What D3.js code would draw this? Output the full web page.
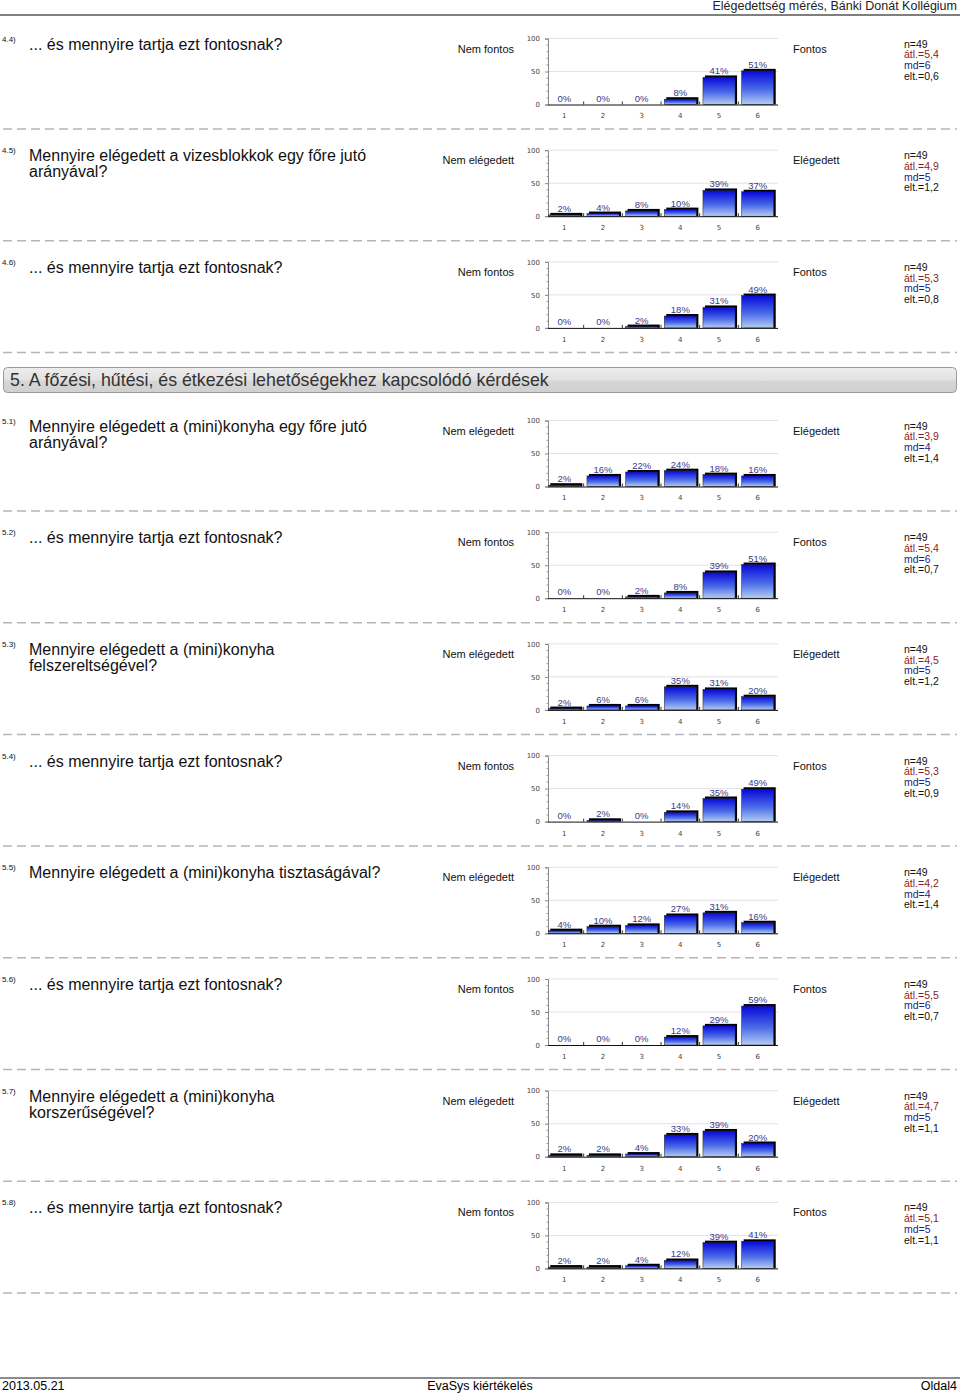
<!DOCTYPE html>
<html><head><meta charset="utf-8">
<script src="https://cdn.jsdelivr.net/npm/d3@7"></script>
<style>body{margin:0;background:#fff}svg{display:block}</style>
</head><body>
<script>
const categories = ["1","2","3","4","5","6"];
const yTicks = [0,50,100];
const ids = ["4.4)","4.5)","4.6)","5.1)","5.2)","5.3)","5.4)","5.5)","5.6)","5.7)","5.8)"];
const questions = [
  ["... és mennyire tartja ezt fontosnak?"],
  ["Mennyire elégedett a vizesblokkok egy főre jutó","arányával?"],
  ["... és mennyire tartja ezt fontosnak?"],
  ["Mennyire elégedett a (mini)konyha egy főre jutó","arányával?"],
  ["... és mennyire tartja ezt fontosnak?"],
  ["Mennyire elégedett a (mini)konyha","felszereltségével?"],
  ["... és mennyire tartja ezt fontosnak?"],
  ["Mennyire elégedett a (mini)konyha tisztaságával?"],
  ["... és mennyire tartja ezt fontosnak?"],
  ["Mennyire elégedett a (mini)konyha","korszerűségével?"],
  ["... és mennyire tartja ezt fontosnak?"]
];
const leftLabels = ["Nem fontos","Nem elégedett","Nem fontos","Nem elégedett","Nem fontos","Nem elégedett","Nem fontos","Nem elégedett","Nem fontos","Nem elégedett","Nem fontos"];
const rightLabels = ["Fontos","Elégedett","Fontos","Elégedett","Fontos","Elégedett","Fontos","Elégedett","Fontos","Elégedett","Fontos"];
const percents = [
  [0,0,0,8,41,51],
  [2,4,8,10,39,37],
  [0,0,2,18,31,49],
  [2,16,22,24,18,16],
  [0,0,2,8,39,51],
  [2,6,6,35,31,20],
  [0,2,0,14,35,49],
  [4,10,12,27,31,16],
  [0,0,0,12,29,59],
  [2,2,4,33,39,20],
  [2,2,4,12,39,41]
];
const nValues = [49,49,49,49,49,49,49,49,49,49,49];
const means = ["5,4","4,9","5,3","3,9","5,4","4,5","5,3","4,2","5,5","4,7","5,1"];
const medians = ["6","5","5","4","6","5","5","4","6","5","5"];
const devs = ["0,6","1,2","0,8","1,4","0,7","1,2","0,9","1,4","0,7","1,1","1,1"];
const headerTitle = "Elégedettség mérés, Bánki Donát Kollégium";
const sectionTitle = "5. A főzési, hűtési, és étkezési lehetőségekhez kapcsolódó kérdések";
const footer = ["2013.05.21","EvaSys kiértékelés","Oldal4"];

const W = 960, H = 1395;
const svg = d3.select("body").append("svg").attr("width", W).attr("height", H)
  .style("font-family","'Liberation Sans', Arial, sans-serif");

const defs = svg.append("defs");
const grad = defs.append("linearGradient").attr("id","barGrad").attr("x1",0).attr("y1",0).attr("x2",0).attr("y2",1);
grad.append("stop").attr("offset","0%").attr("stop-color","#0808d8");
grad.append("stop").attr("offset","55%").attr("stop-color","#4a6ae8");
grad.append("stop").attr("offset","100%").attr("stop-color","#b4ccf2");
const sgrad = defs.append("linearGradient").attr("id","secGrad").attr("x1",0).attr("y1",0).attr("x2",0).attr("y2",1);
sgrad.append("stop").attr("offset","0%").attr("stop-color","#ededed");
sgrad.append("stop").attr("offset","50%").attr("stop-color","#e2e2e2");
sgrad.append("stop").attr("offset","55%").attr("stop-color","#d6d6d6");
sgrad.append("stop").attr("offset","100%").attr("stop-color","#d0d0d0");

// header
svg.append("text").attr("x",957).attr("y",10).attr("text-anchor","end").attr("font-size",12.5).attr("fill","#222").text(headerTitle);
svg.append("line").attr("x1",0).attr("x2",960).attr("y1",15).attr("y2",15).attr("stroke","#555").attr("stroke-width",1.5);

// footer
svg.append("line").attr("x1",0).attr("x2",960).attr("y1",1378).attr("y2",1378).attr("stroke","#666").attr("stroke-width",1.5);
svg.append("text").attr("x",2).attr("y",1390).attr("font-size",12.5).text(footer[0]);
svg.append("text").attr("x",480).attr("y",1390).attr("text-anchor","middle").attr("font-size",12.5).text(footer[1]);
svg.append("text").attr("x",957).attr("y",1390).attr("text-anchor","end").attr("font-size",12.5).text(footer[2]);

// section header
const sec = svg.append("g");
sec.append("rect").attr("x",3.5).attr("y",367.5).attr("width",953).attr("height",25).attr("rx",4)
  .attr("fill","url(#secGrad)").attr("stroke","#9a9a9a");
sec.append("text").attr("x",10).attr("y",386).attr("font-size",17.8).attr("fill","#333").text(sectionTitle);

function blockTop(i){ return i < 3 ? 17.5 + i*111.7 : 399.5 + (i-3)*111.7; }

const x = d3.scaleBand().domain(categories).range([545, 777]).paddingInner(0.17).paddingOuter(0.085);

ids.forEach((id, i) => {
  const D = blockTop(i);
  const g = svg.append("g");
  const y = d3.scaleLinear().domain([0,100]).range([D+87, D+21]);

  g.append("text").attr("x",2).attr("y",D+24).attr("font-size",8).attr("fill","#111").text(id);
  questions[i].forEach((line, k) => {
    g.append("text").attr("x",29).attr("y",D+32 + k*16).attr("font-size",16).attr("fill","#111").text(line);
  });
  g.append("text").attr("x",514).attr("y",D+35).attr("text-anchor","end").attr("font-size",11).attr("fill","#111").text(leftLabels[i]);
  g.append("text").attr("x",793).attr("y",D+35).attr("font-size",11).attr("fill","#111").text(rightLabels[i]);

  const st = [ ["n="+nValues[i],"#111"], ["átl.="+means[i],"#8b1c1c"], ["md="+medians[i],"#1c1c80"], ["elt.="+devs[i],"#111"] ];
  st.forEach((s,k) => {
    g.append("text").attr("x",904).attr("y",D+30 + k*10.7).attr("font-size",10.5).attr("fill",s[1]).text(s[0]);
  });

  // gridlines
  g.selectAll(".grid").data([50,100]).join("line")
    .attr("x1",548).attr("x2",778).attr("y1",d=>y(d)).attr("y2",d=>y(d))
    .attr("stroke","#e2e2e2").attr("stroke-width",1);

  // y axis
  const yAxis = d3.axisLeft(y).tickValues(yTicks).tickSize(3).tickPadding(5);
  const ya = g.append("g").attr("transform","translate(548,0)").call(yAxis);
  ya.select(".domain").attr("stroke","#888");
  ya.selectAll(".tick line").attr("stroke","#888");
  ya.selectAll(".tick text").attr("font-size",7).attr("fill","#444").attr("font-family","'DejaVu Sans', sans-serif");
  // minor ticks
  g.selectAll(".minor").data(d3.range(10,100,10).filter(v=>v!==50)).join("line")
    .attr("x1",546.5).attr("x2",548).attr("y1",d=>y(d)).attr("y2",d=>y(d)).attr("stroke","#999");

  // bars
  const data = categories.map((c,j)=>({c, v: percents[i][j]}));
  g.selectAll(".shadow").data(data.filter(d=>d.v>0)).join("rect")
    .attr("x",d=>x(d.c)+2).attr("y",d=>y(d.v)-2).attr("width",x.bandwidth()).attr("height",d=>y(0)-y(d.v)+2)
    .attr("fill","#000");
  g.selectAll(".bar").data(data.filter(d=>d.v>0)).join("rect")
    .attr("x",d=>x(d.c)).attr("y",d=>y(d.v)).attr("width",x.bandwidth()).attr("height",d=>y(0)-y(d.v))
    .attr("fill","url(#barGrad)").attr("stroke","#222").attr("stroke-width",0.5);

  // x axis
  const xAxis = d3.axisBottom(x).tickSize(0).tickPadding(9);
  const xa = g.append("g").attr("transform",`translate(0,${y(0)})`).call(xAxis);
  xa.select(".domain").remove();
  xa.selectAll(".tick text").attr("font-size",7).attr("fill","#444").attr("font-family","'DejaVu Sans', sans-serif");
  g.append("line").attr("x1",548).attr("x2",778).attr("y1",y(0)+0.5).attr("y2",y(0)+0.5).attr("stroke","#111");
  // small separators at band boundaries
  g.selectAll(".sep").data(categories.slice(0,5)).join("line")
    .attr("x1",d=>x(d)+x.step()-x.step()*0.085).attr("x2",d=>x(d)+x.step()-x.step()*0.085)
    .attr("y1",y(0)).attr("y2",y(0)-3).attr("stroke","#333");

  // labels
  g.selectAll(".lbl").data(data).join("text")
    .attr("x",d=>x(d.c)+x.bandwidth()/2).attr("y",d=>y(d.v)-3)
    .attr("text-anchor","middle").attr("font-size",9.5).attr("fill","#3a3a8a").text(d=>d.v+"%");

  // dashed separator
  g.append("line").attr("x1",3).attr("x2",957).attr("y1",D+111.5).attr("y2",D+111.5)
    .attr("stroke","#b5b5b5").attr("stroke-width",1.5).attr("stroke-dasharray","9,5");
});
</script>
</body></html>
